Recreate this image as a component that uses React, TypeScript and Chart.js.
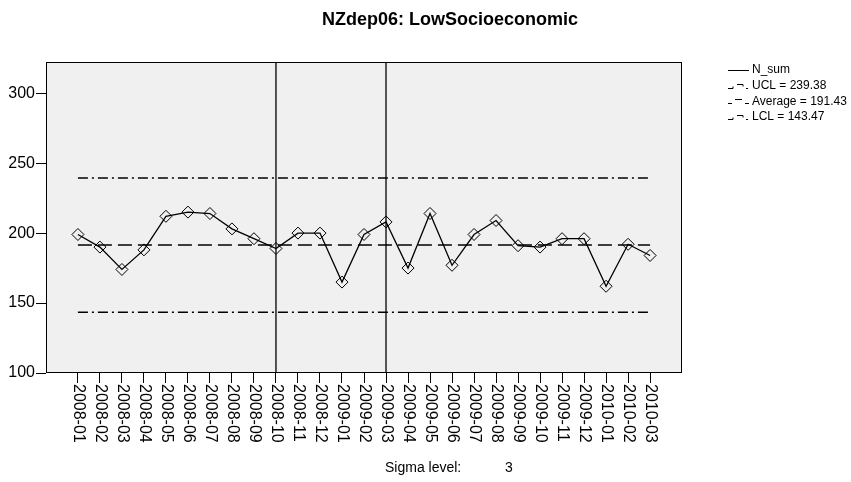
import React, { useEffect, useRef } from "react";
import { Chart, registerables } from "chart.js";

Chart.register(...registerables);

const categories = [
  "2008-01", "2008-02", "2008-03", "2008-04", "2008-05", "2008-06", "2008-07", "2008-08", "2008-09",
  "2008-10", "2008-11", "2008-12", "2009-01", "2009-02", "2009-03", "2009-04", "2009-05", "2009-06",
  "2009-07", "2009-08", "2009-09", "2009-10", "2009-11", "2009-12", "2010-01", "2010-02", "2010-03",
];
const nSum = [199, 190, 174, 188, 212, 215, 214, 203, 196, 189, 200, 200, 165, 199, 208, 175, 214, 177, 199, 209, 191, 190, 196, 196, 162, 192, 184];
const ucl = 239.38;
const average = 191.43;
const lcl = 143.47;
const phaseBreaks = ["2008-10", "2009-03"];
const yTicks = [100, 150, 200, 250, 300];
const sigmaLevel = 3;
const title = "NZdep06: LowSocioeconomic";

const FONT = "'Liberation Sans', Arial, sans-serif";
const Y_MIN = 100;
const Y_MAX = 322.3;

export default function App() {
  const ref = useRef<HTMLCanvasElement | null>(null);

  useEffect(() => {
    if (!ref.current) return;
    const last = categories.length - 1;
    const hLine = (v: number) => [{ x: 0, y: v }, { x: last, y: v }];
    const vLines = phaseBreaks.map((c) => {
      const i = categories.indexOf(c);
      return {
        data: [{ x: i, y: Y_MIN }, { x: i, y: Y_MAX }],
        borderColor: "#000",
        borderWidth: 1.3,
        pointRadius: 0,
        fill: false,
      };
    });

    const decor = {
      id: "decor",
      beforeDraw(chart: any) {
        const { ctx, chartArea: a } = chart;
        ctx.save();
        ctx.fillStyle = "#fff";
        ctx.fillRect(0, 0, chart.width, chart.height);
        ctx.fillStyle = "#f0f0f0";
        ctx.fillRect(a.left, a.top, a.right - a.left, a.bottom - a.top);
        ctx.restore();
      },
      afterDraw(chart: any) {
        const { ctx, chartArea: a } = chart;
        const xs = chart.scales.x;
        ctx.save();
        ctx.strokeStyle = "#000";
        ctx.lineWidth = 1;
        ctx.strokeRect(Math.round(a.left) + 0.5, Math.round(a.top) + 0.5, Math.round(a.right - a.left) - 1, Math.round(a.bottom - a.top) - 1);

        // x labels rotated clockwise
        ctx.fillStyle = "#000";
        ctx.font = `16px ${FONT}`;
        ctx.textAlign = "left";
        ctx.textBaseline = "middle";
        categories.forEach((c, i) => {
          const x = xs.getPixelForValue(i);
          ctx.save();
          ctx.translate(x, a.bottom + 11);
          ctx.rotate(Math.PI / 2);
          ctx.fillText(c, 0, 0);
          ctx.restore();
        });

        // title
        ctx.font = `bold 18px ${FONT}`;
        ctx.textAlign = "center";
        ctx.fillText(title, 450, 20);

        // sigma
        ctx.font = `14px ${FONT}`;
        ctx.textAlign = "left";
        ctx.fillText("Sigma level:", 385, 468);
        ctx.fillText(String(sigmaLevel), 505, 468);

        // legend
        const lx = 728;
        const tx = 752;
        const rows = [
          { label: "N_sum", kind: "solid" },
          { label: `UCL = ${ucl.toFixed(2)}`, kind: "dashdot" },
          { label: `Average = ${average.toFixed(2)}`, kind: "dash" },
          { label: `LCL = ${lcl.toFixed(2)}`, kind: "dashdot" },
        ];
        ctx.font = `12px ${FONT}`;
        rows.forEach((r, k) => {
          const y = 70 + k * 15.7;
          const yy = Math.round(y) + 0.5;
          ctx.beginPath();
          if (r.kind === "solid") {
            ctx.moveTo(lx, yy);
            ctx.lineTo(lx + 21, yy);
          } else if (r.kind === "dashdot") {
            ctx.moveTo(lx, yy + 2);
            ctx.lineTo(lx + 5, yy + 2);
            ctx.lineTo(lx + 5, yy);
            ctx.moveTo(lx + 9, yy - 2);
            ctx.lineTo(lx + 15, yy - 2);
            ctx.lineTo(lx + 15, yy);
            ctx.moveTo(lx + 18, yy + 2);
            ctx.lineTo(lx + 20, yy + 2);
          } else {
            ctx.moveTo(lx, yy + 2);
            ctx.lineTo(lx + 4, yy + 2);
            ctx.moveTo(lx + 7, yy - 2);
            ctx.lineTo(lx + 14, yy - 2);
            ctx.moveTo(lx + 17, yy + 2);
            ctx.lineTo(lx + 21, yy + 2);
          }
          ctx.stroke();
          ctx.fillText(r.label, tx, y);
        });
        ctx.restore();
      },
    };

    const chart = new Chart(ref.current, {
      type: "line",
      data: {
        datasets: [
          {
            label: "N_sum",
            data: nSum.map((v, i) => ({ x: i, y: v })),
            borderColor: "#000",
            borderWidth: 1.3,
            pointStyle: "rectRot",
            pointRadius: 6,
            pointBorderColor: "#000",
            pointBackgroundColor: "rgba(0,0,0,0)",
            pointBorderWidth: 1,
            fill: false,
            tension: 0,
          },
          {
            label: "UCL",
            data: hLine(ucl),
            borderColor: "#000",
            borderWidth: 1.5,
            borderDash: [10, 4, 2, 4],
            pointRadius: 0,
            fill: false,
          },
          {
            label: "Average",
            data: hLine(average),
            borderColor: "#000",
            borderWidth: 1.5,
            borderDash: [14, 6],
            pointRadius: 0,
            fill: false,
          },
          {
            label: "LCL",
            data: hLine(lcl),
            borderColor: "#000",
            borderWidth: 1.5,
            borderDash: [10, 4, 2, 4],
            pointRadius: 0,
            fill: false,
          },
          ...vLines,
        ] as any,
      },
      options: {
        responsive: false,
        animation: false,
        events: [],
        layout: { padding: { top: 62, right: 169, left: 0, bottom: 0 } },
        plugins: { legend: { display: false }, title: { display: false }, tooltip: { enabled: false } },
        scales: {
          x: {
            type: "linear",
            min: -1.45,
            max: last + 1.45,
            afterBuildTicks: (s: any) => {
              s.ticks = categories.map((_, i) => ({ value: i }));
            },
            afterFit: (s: any) => {
              s.height = 482 - 373;
            },
            ticks: { display: false },
            grid: { drawOnChartArea: false, drawTicks: true, tickLength: 10, color: "#000", tickColor: "#000" },
            border: { display: false },
          },
          y: {
            type: "linear",
            min: Y_MIN,
            max: Y_MAX,
            afterBuildTicks: (s: any) => {
              s.ticks = yTicks.map((v) => ({ value: v }));
            },
            afterFit: (s: any) => {
              s.width = 46;
            },
            ticks: { color: "#000", font: { family: FONT, size: 16 }, padding: 1 },
            grid: { drawOnChartArea: false, drawTicks: true, tickLength: 10, color: "#000", tickColor: "#000" },
            border: { display: false },
          },
        },
      } as any,
      plugins: [decor],
    });
    return () => chart.destroy();
  }, []);

  return (
    <div style={{ position: "absolute", left: 0, top: 0, width: 851, height: 482 }}>
      <canvas ref={ref} width={851} height={482} style={{ display: "block" }} />
    </div>
  );
}
